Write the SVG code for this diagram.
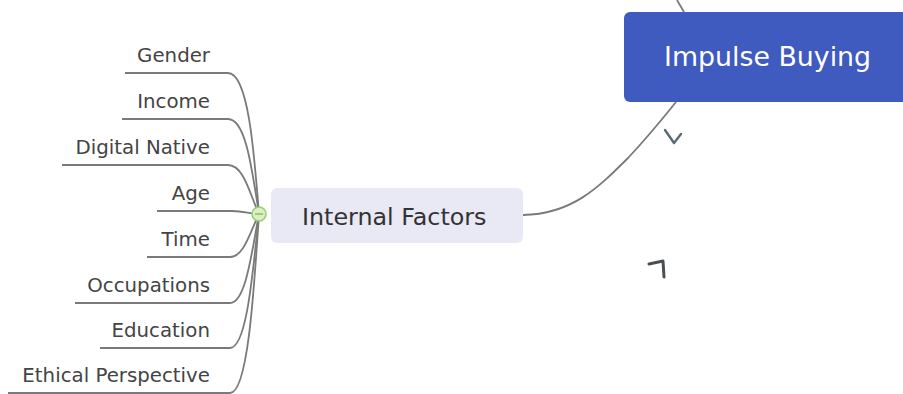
<svg xmlns="http://www.w3.org/2000/svg" width="903" height="394" viewBox="0 0 903 394">
<style>
.lbl{font-family:"DejaVu Sans",Verdana,sans-serif;font-size:19.8px;fill:#444;text-anchor:end}
.br{fill:none;stroke:#7a7a7a;stroke-width:1.8}
.mk{fill:none;stroke:#5a6a75;stroke-width:2.4;stroke-linecap:round;stroke-linejoin:round}
</style>
<rect width="903" height="394" fill="#fff"/>
<g id="connectors">
<path class="br" d="M677,0 L684,12"/>
<path class="br" d="M523,215 C572,214 598,188 628,158 C645,140 660,122 676,102"/>
<path class="br" d="M125,73 H228 C248,73 254,150 259,214"/>
<path class="br" d="M122,119 H228 C246,119 252,170 259,214"/>
<path class="br" d="M62,165 H228 C244,165 250,195 259,214"/>
<path class="br" d="M157,211 H232 C244,211 250,214 259,214"/>
<path class="br" d="M147,257 H230 C244,257 250,232 259,214"/>
<path class="br" d="M75,303 H230 C246,303 252,250 259,214"/>
<path class="br" d="M100,348 H230 C247,348 253,270 259,214"/>
<path class="br" d="M8,393 H230 C248,393 254,290 259,214"/>
</g>
<g id="toggle">
<circle cx="259" cy="214" r="7" fill="#d9efc4" stroke="#9ccc6a" stroke-width="1.5"/>
<line x1="255" y1="214" x2="263" y2="214" stroke="#8bbf5a" stroke-width="1.5"/>
</g>
<g id="impulse-buying">
<rect x="624" y="12" width="300" height="90" rx="6" fill="#3f5bbf"/>
<text x="664" y="66" font-family="DejaVu Sans,Verdana,sans-serif" font-size="26.8" fill="#fff">Impulse Buying</text>
</g>
<g id="internal-factors">
<rect x="271" y="188" width="252" height="55" rx="6" fill="#e8e9f4"/>
<text x="302" y="225" font-family="DejaVu Sans,Verdana,sans-serif" font-size="23.8" fill="#333">Internal Factors</text>
</g>
<g id="gender"><text class="lbl" x="210" y="62">Gender</text></g>
<g id="income"><text class="lbl" x="210" y="108">Income</text></g>
<g id="digital-native"><text class="lbl" x="210" y="154">Digital Native</text></g>
<g id="age"><text class="lbl" x="210" y="200">Age</text></g>
<g id="time"><text class="lbl" x="210" y="246">Time</text></g>
<g id="occupations"><text class="lbl" x="210" y="292">Occupations</text></g>
<g id="education"><text class="lbl" x="210" y="337">Education</text></g>
<g id="ethical-perspective"><text class="lbl" x="210" y="382">Ethical Perspective</text></g>
<path class="mk" d="M665,130 L674,143 L681,134"/>
<path class="mk" d="M649,264 L663,261 L664,277" style="stroke:#4a4f55;stroke-width:3"/>
</svg>
